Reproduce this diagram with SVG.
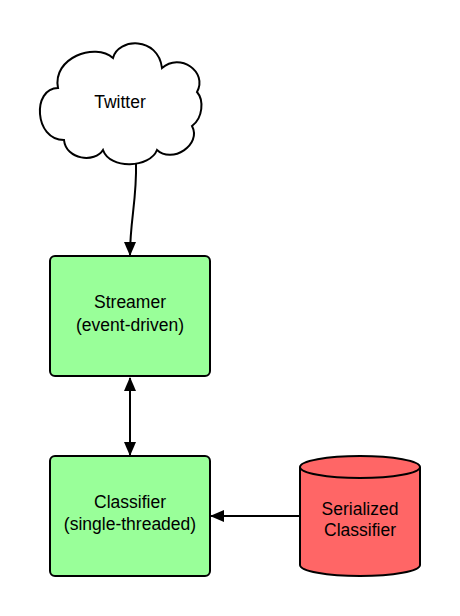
<svg xmlns="http://www.w3.org/2000/svg" width="460" height="616" viewBox="0 0 460 616">
<style>
text{font-family:"Liberation Sans",Arial,sans-serif;font-size:17.5px;fill:#000;text-anchor:middle}
.box{fill:#99ff99;stroke:#000;stroke-width:2}
.db{fill:#ff6666;stroke:#000;stroke-width:2}
.edge{fill:none;stroke:#000;stroke-width:2}
</style>
<defs>
<marker id="ah" markerUnits="userSpaceOnUse" markerWidth="14" markerHeight="12" refX="13" refY="6" orient="auto-start-reverse" viewBox="0 0 14 12">
<path d="M0,0 L14,6 L0,12 z" fill="#000"/>
</marker>
</defs>
<rect width="460" height="616" fill="#fff"/>
<g id="connectors">
<path class="edge" d="M136,162 C137,200 130,220 130,255" marker-end="url(#ah)"/>
<path class="edge" d="M130,378 L130,455" marker-start="url(#ah)" marker-end="url(#ah)"/>
<path class="edge" d="M300,516 L211,516" marker-end="url(#ah)"/>
</g>
<g id="twitter">
<path fill="#fff" stroke="#000" stroke-width="2" d="M58,88 C52,58 95,42 113,58 C118,38 158,36 162,68 C180,52 208,72 197,92 C204,100 203,118 192,126 C202,145 172,164 157,150 C150,168 110,170 103,150 C95,163 66,160 64,140 C34,140 32,88 58,88 Z"/>
<text x="120" y="108">Twitter</text>
</g>
<g id="streamer">
<rect class="box" x="50" y="256" width="160" height="120" rx="5"/>
<text x="130" y="308">Streamer</text>
<text x="130" y="331">(event-driven)</text>
</g>
<g id="classifier">
<rect class="box" x="50" y="456" width="160" height="120" rx="5"/>
<text x="130" y="508">Classifier</text>
<text x="130" y="530">(single-threaded)</text>
</g>
<g id="serialized">
<path class="db" d="M300,467 A60,11 0 0 1 420,467 L420,565 A60,11 0 0 1 300,565 Z"/>
<path class="edge" d="M300,467 A60,11 0 0 0 420,467"/>
<text x="360" y="515">Serialized</text>
<text x="360" y="536">Classifier</text>
</g>
</svg>
